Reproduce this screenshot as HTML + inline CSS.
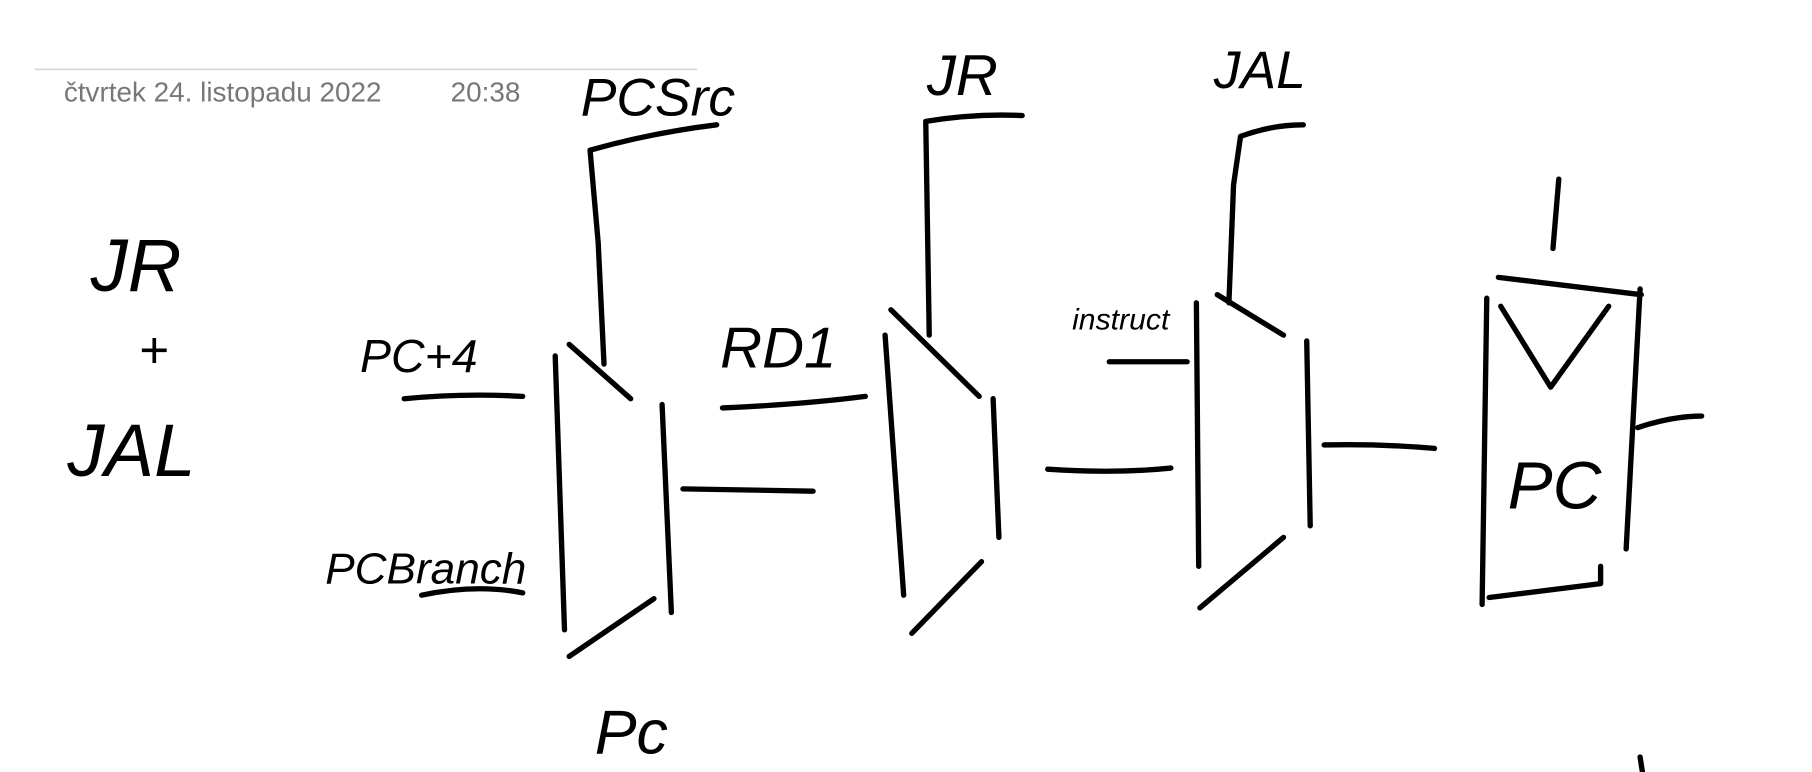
<!DOCTYPE html>
<html><head><meta charset="utf-8"><style>
html,body{margin:0;padding:0;background:#fff;}
svg{display:block;}
.s{fill:none;stroke:#000;stroke-width:4.6;stroke-linecap:round;stroke-linejoin:round;}
.h{font-family:"Liberation Sans",sans-serif;fill:#000;}
</style></head><body>
<svg width="1812" height="772" viewBox="0 0 1560 668" preserveAspectRatio="none" xmlns="http://www.w3.org/2000/svg">
<line x1="30" y1="60" x2="600" y2="60" stroke="#d8d8d8" stroke-width="1.5"/>
<text x="55" y="88" font-family="Liberation Sans, sans-serif" font-size="24" fill="#777">čtvrtek 24. listopadu 2022</text>
<text x="388" y="88" font-family="Liberation Sans, sans-serif" font-size="24" fill="#777">20:38</text>

<text class="h" x="78" y="252" font-size="64" font-style="italic">JR</text>
<text class="h" x="120" y="318" font-size="44">+</text>
<text class="h" x="58" y="412" font-size="64" font-style="italic">JAL</text>

<!-- mux 1 -->
<path class="s" d="M478 308 L486 545 M570 350 L578 530 M490 298 L543 345 M490 568 L563 518"/>
<path class="s" d="M520 315 L515 210 L508 130 Q560 115 617 108"/>
<text class="h" x="500" y="100" font-size="46" font-style="italic">PCSrc</text>
<text class="h" x="310" y="322" font-size="40" font-style="italic">PC+4</text>
<path class="s" d="M348 345 Q400 340 450 343"/>
<text class="h" x="280" y="505" font-size="38" font-style="italic">PCBranch</text>
<path class="s" d="M363 515 Q410 505 450 513"/>
<path class="s" d="M588 423 L700 425"/>
<text class="h" x="512" y="652" font-size="54" font-style="italic">Pc</text>

<!-- mux 2 -->
<path class="s" d="M762 290 L778 515 M855 345 L860 465 M767 268 L843 343 M785 548 L845 486"/>
<path class="s" d="M800 290 L797 105 Q840 98 880 100"/>
<text class="h" x="798" y="82" font-size="50" font-style="italic">JR</text>
<text class="h" x="620" y="318" font-size="50" font-style="italic">RD1</text>
<path class="s" d="M622 353 Q690 350 745 343"/>
<path class="s" d="M902 406 Q960 410 1008 405"/>

<!-- mux 3 -->
<path class="s" d="M1030 262 L1032 490 M1125 295 L1128 455 M1048 255 L1105 290 M1033 526 L1105 465"/>
<path class="s" d="M1058 262 L1062 160 L1068 118 Q1095 108 1122 108"/>
<text class="h" x="1045" y="76" font-size="46" font-style="italic">JAL</text>
<text class="h" x="923" y="285" font-size="26" font-style="italic">instruct</text>
<path class="s" d="M955 313 L1022 313"/>
<path class="s" d="M1140 385 Q1190 384 1235 388"/>

<!-- PC register -->
<path class="s" d="M1280 258 L1276 523 M1412 250 L1400 475 M1290 240 L1413 255 M1282 517 L1378 505 M1378 505 L1378 490"/>
<path class="s" d="M1292 265 L1335 335 L1385 265"/>
<text class="h" x="1298" y="440" font-size="58" font-style="italic">PC</text>
<path class="s" d="M1342 155 L1337 215"/>
<path class="s" d="M1410 370 Q1440 360 1465 360"/>
<path class="s" d="M1412 655 L1414 668"/>
</svg>
</body></html>
